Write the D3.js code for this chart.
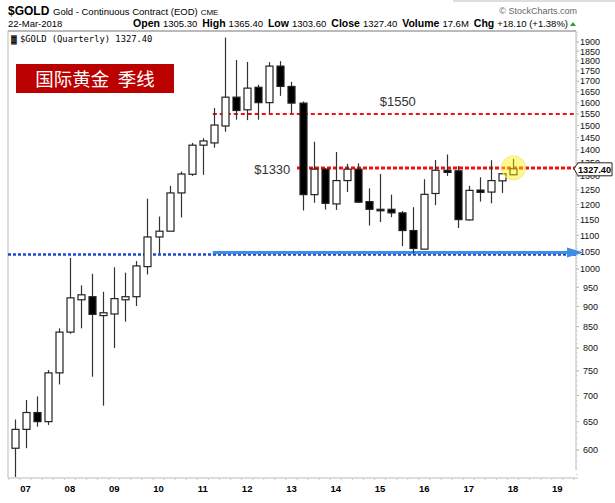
<!DOCTYPE html>
<html lang="en">
<head>
<meta charset="UTF-8">
<title>$GOLD Quarterly</title>
<script src="https://d3js.org/d3.v7.min.js"></script>
<style>
    body { margin: 0; background: #fff; }
</style>
</head>
<body>
<div id="chart"></div>
<script>
    // quarterly candles, 2006 Q4 .. 2018 Q1
    const quarters = ["06Q4",
        "07Q1","07Q2","07Q3","07Q4","08Q1","08Q2","08Q3","08Q4",
        "09Q1","09Q2","09Q3","09Q4","10Q1","10Q2","10Q3","10Q4",
        "11Q1","11Q2","11Q3","11Q4","12Q1","12Q2","12Q3","12Q4",
        "13Q1","13Q2","13Q3","13Q4","14Q1","14Q2","14Q3","14Q4",
        "15Q1","15Q2","15Q3","15Q4","16Q1","16Q2","16Q3","16Q4",
        "17Q1","17Q2","17Q3","17Q4","18Q1"];
    const open  = [603, 636, 667, 650, 746, 837, 917, 925, 877,
        881, 917, 925, 1007, 1095, 1113, 1240, 1307,
        1419, 1428, 1498, 1625, 1568, 1671, 1600, 1774,
        1675, 1598, 1234, 1326, 1202, 1284, 1326, 1210,
        1184, 1184, 1172, 1115, 1058, 1238, 1322, 1320,
        1149, 1250, 1243, 1283, 1305.3];
    const high  = [654, 691, 698, 752, 846, 1032, 955, 987, 938,
        1005, 990, 1023, 1220, 1160, 1265, 1317, 1428,
        1447, 1576, 1923, 1805, 1795, 1683, 1794, 1799,
        1697, 1605, 1433, 1330, 1392, 1346, 1348, 1256,
        1308, 1234, 1178, 1191, 1289, 1361, 1382, 1338,
        1265, 1296, 1360, 1310, 1365.4];
    const low   = [556, 603, 641, 644, 722, 833, 846, 738, 680,
        800, 862, 901, 985, 1045, 1120, 1157, 1301,
        1305, 1409, 1474, 1525, 1523, 1525, 1553, 1631,
        1553, 1180, 1206, 1183, 1182, 1243, 1206, 1131,
        1142, 1158, 1067, 1046, 1061, 1198, 1301, 1123,
        1147, 1210, 1204, 1240, 1303.6];
    const close = [636, 667, 650, 746, 837, 922, 930, 880, 884,
        920, 925, 1009, 1095, 1113, 1240, 1308, 1419,
        1436, 1502, 1625, 1565, 1667, 1600, 1774, 1675,
        1598, 1234, 1326, 1204, 1284, 1326, 1208, 1184,
        1183, 1172, 1115, 1060, 1235, 1322, 1314, 1150,
        1249, 1242, 1284, 1309, 1327.4];

    const yTicks = [600, 650, 700, 750, 800, 850, 900, 950, 1000, 1050, 1100, 1150,
        1200, 1250, 1300, 1350, 1400, 1450, 1500, 1550, 1600, 1650, 1700, 1750,
        1800, 1850, 1900];
    const yearLabels = ["07","08","09","10","11","12","13","14","15","16","17","18","19"];

    // annotation levels
    const resistance = [{ price: 1550, from: 17.9, label: "$1550", labelAt: 34.6, labelAbove: true, width: 2, dash: "4,3" },
                        { price: 1330, from: 25.5, label: "$1330", labelAt: 24.9, labelAbove: false, width: 3, dash: "4,2" }];
    const support = 1045;
    const lastClose = 1327.40;

    const width = 615, height = 503;
    const plotL = 8, plotR = 576, plotT = 31, plotB = 478;

    const svg = d3.select("#chart").append("svg")
        .attr("width", width)
        .attr("height", height)
        .attr("font-family", "Arial, 'Liberation Sans', sans-serif");

    const x = d3.scaleLinear().domain([0, quarters.length - 1]).range([14.5, 513]);
    const y = d3.scaleLog().domain([600, 1900]).range([450, 41.8]);

    // ---- header ----
    svg.append("text").attr("x", 8).attr("y", 15)
        .attr("font-size", 12).attr("font-weight", "bold").text("$GOLD");
    svg.append("text").attr("x", 53).attr("y", 15).attr("font-size", 9.5)
        .text("Gold - Continuous Contract (EOD)")
        .append("tspan").attr("font-size", 8).attr("dx", 3).text("CME");
    svg.append("text").attr("x", 577).attr("y", 14).attr("text-anchor", "end")
        .attr("font-size", 9).attr("fill", "#666").text("\u00A9 StockCharts.com");
    svg.append("text").attr("x", 8).attr("y", 27).attr("font-size", 9.5).text("22-Mar-2018");

    const info = svg.append("text").attr("x", 568).attr("y", 27)
        .attr("text-anchor", "end").attr("font-size", 9.5);
    [["Open", "1305.30"], ["High", "1365.40"], ["Low", "1303.60"], ["Close", "1327.40"],
     ["Volume", "17.6M"], ["Chg", "+18.10 (+1.38%)"]].forEach(([k, v], i) => {
        info.append("tspan").attr("font-weight", "bold").attr("font-size", 10.5)
            .attr("dx", i ? 5 : 0).text(k);
        info.append("tspan").attr("dx", 3).text(v);
    });
    svg.append("path").attr("d", "M570,26 L573,22 L576,26 Z").attr("fill", "#2a9a3a");

    // top strip line
    svg.append("line").attr("x1", 453).attr("x2", 615).attr("y1", 1).attr("y2", 1)
        .attr("stroke", "#bbb");

    // ---- frame ----
    svg.append("line").attr("x1", plotL).attr("x2", plotR).attr("y1", plotT).attr("y2", plotT)
        .attr("stroke", "#777");
    svg.append("line").attr("x1", plotL).attr("x2", plotL).attr("y1", plotT).attr("y2", plotB)
        .attr("stroke", "#bbb");
    svg.append("line").attr("x1", plotR).attr("x2", plotR).attr("y1", plotT).attr("y2", plotB - 8)
        .attr("stroke", "#bbb");
    svg.append("line").attr("x1", plotL).attr("x2", plotR + 2).attr("y1", plotB).attr("y2", plotB)
        .attr("stroke", "#bbb");

    // legend inside plot
    svg.append("text").attr("x", 11).attr("y", 42).attr("font-size", 8)
        .attr("font-weight", "bold").text("\u2593");
    svg.append("text").attr("x", 20).attr("y", 42).attr("font-size", 8.8)
        .attr("font-family", "'DejaVu Sans Mono', 'Liberation Mono', monospace")
        .text("$GOLD (Quarterly) 1327.40");

    // ---- y axis (right) ----
    const yAxis = svg.append("g").attr("transform", `translate(${plotR},0)`);
    yAxis.selectAll("line.major").data(yTicks).join("line")
        .attr("class", "major")
        .attr("x1", 0).attr("x2", 3)
        .attr("y1", d => y(d)).attr("y2", d => y(d))
        .attr("stroke", "#aaa");
    yAxis.selectAll("line.minor").data(d3.range(560, 1960, 10)).join("line")
        .attr("class", "minor")
        .attr("x1", 0).attr("x2", 1.5)
        .attr("y1", d => y(d)).attr("y2", d => y(d))
        .attr("stroke", "#ccc");
    yAxis.selectAll("text").data(yTicks).join("text")
        .attr("x", d => d < 1000 ? 7 : 4)
        .attr("y", d => y(d) + 3.3)
        .attr("font-size", 9).attr("fill", "#111")
        .text(d => d);

    // ---- x axis ----
    const xAxis = svg.append("g");
    xAxis.selectAll("line").data(d3.range(-0.5, 51, 1)).join("line")
        .attr("x1", d => x(d)).attr("x2", d => x(d))
        .attr("y1", plotB).attr("y2", plotB + 2)
        .attr("stroke", "#ccc");
    xAxis.selectAll("text").data(yearLabels).join("text")
        .attr("x", (d, i) => x(1 + i * 4))
        .attr("y", 492)
        .attr("text-anchor", "middle")
        .attr("font-size", 9.5).attr("font-weight", "bold")
        .text(d => d);

    // ---- support line ----
    const ySup = y(support);
    svg.append("line").attr("x1", plotL).attr("x2", plotR).attr("y1", ySup + 1).attr("y2", ySup + 1)
        .attr("stroke", "#1f47d6").attr("stroke-width", 2.5).attr("stroke-dasharray", "3,2");
    svg.append("line").attr("x1", x(17.9)).attr("x2", plotR - 8).attr("y1", ySup - 1).attr("y2", ySup - 1)
        .attr("stroke", "#3d8fe6").attr("stroke-width", 3);
    svg.append("path")
        .attr("d", `M${plotR - 9},${ySup - 6} L${plotR + 8},${ySup - 1} L${plotR - 9},${ySup + 4} Z`)
        .attr("fill", "#3d8fe6");

    // ---- resistance lines ----
    resistance.forEach(r => {
        svg.append("line")
            .attr("x1", x(r.from)).attr("x2", plotR)
            .attr("y1", y(r.price)).attr("y2", y(r.price))
            .attr("stroke", "#ee1111").attr("stroke-width", r.width)
            .attr("stroke-dasharray", r.dash);
        svg.append("text")
            .attr("x", x(r.labelAt))
            .attr("y", r.labelAbove ? y(r.price) - 8 : y(r.price) + 6)
            .attr("text-anchor", r.labelAbove ? "middle" : "end")
            .attr("font-size", 13).attr("fill", "#333")
            .text(r.label);
    });

    // ---- candles ----
    const candles = quarters.map((q, i) => ({ q, i, o: open[i], h: high[i], l: low[i], c: close[i] }));
    const bodyW = 7;
    const g = svg.append("g");
    g.selectAll("line.wick").data(candles).join("line")
        .attr("class", "wick")
        .attr("x1", d => Math.round(x(d.i)) + 0.5).attr("x2", d => Math.round(x(d.i)) + 0.5)
        .attr("y1", d => y(d.h)).attr("y2", d => y(d.l))
        .attr("stroke", "#333").attr("stroke-width", 1.2);
    g.selectAll("rect").data(candles).join("rect")
        .attr("x", d => Math.round(x(d.i)) + 0.5 - bodyW / 2)
        .attr("y", d => y(Math.max(d.o, d.c)))
        .attr("width", bodyW)
        .attr("height", d => Math.max(1.5, Math.abs(y(d.o) - y(d.c))))
        .attr("fill", d => d.c >= d.o ? "#fff" : "#000")
        .attr("stroke", "#222").attr("stroke-width", 1.2);

    // highlight last candle
    svg.append("circle")
        .attr("cx", x(quarters.length - 1) + 0.5).attr("cy", y(lastClose) - 1)
        .attr("r", 12)
        .attr("fill", "#fff200").attr("fill-opacity", 0.45)
        .attr("stroke", "#f3e98a").attr("stroke-width", 1);

    // last price tag on axis
    const yl = y(lastClose);
    svg.append("path")
        .attr("d", `M${plotR - 2},${yl} L${plotR + 2},${yl - 6} L612,${yl - 6} L612,${yl + 7} L${plotR + 2},${yl + 7} Z`)
        .attr("fill", "#fff").attr("stroke", "#222");
    svg.append("text").attr("x", 594.5).attr("y", yl + 4.2)
        .attr("text-anchor", "middle")
        .attr("font-size", 9.5).attr("font-weight", "bold")
        .attr("textLength", 33).attr("lengthAdjust", "spacingAndGlyphs")
        .text("1327.40");

    // title badge
    svg.append("rect").attr("x", 16).attr("y", 64).attr("width", 158).attr("height", 29)
        .attr("fill", "#bb0000");
    svg.append("text").attr("x", 95).attr("y", 85.5).attr("text-anchor", "middle")
        .attr("font-family", "'Noto Sans CJK SC', sans-serif")
        .attr("font-size", 18.5).attr("fill", "#fff")
        .attr("xml:space", "preserve")
        .text("国际黄金  季线");
</script>
</body>
</html>
